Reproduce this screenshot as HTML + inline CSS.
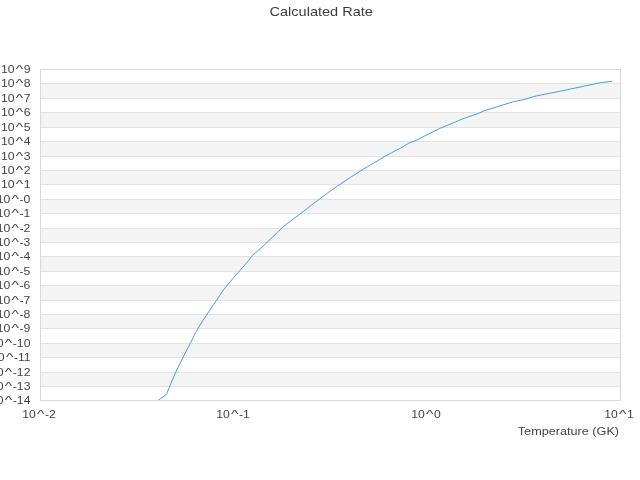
<!DOCTYPE html>
<html>
<head>
<meta charset="utf-8">
<title>Calculated Rate</title>
<style>
html,body{margin:0;padding:0;background:#ffffff;}
body{width:640px;height:480px;position:relative;overflow:hidden;font-family:"Liberation Sans",sans-serif;}
#chart{position:absolute;left:0;top:0;width:640px;height:480px;overflow:hidden;will-change:transform;}
.t{position:absolute;white-space:nowrap;line-height:1;}
#title{left:0;width:640px;top:5px;text-align:center;font-size:13.5px;color:#3c3c3c;padding-left:2.4px;box-sizing:border-box;transform:scaleX(1.075);transform-origin:321.2px 50%;}
.yl{position:absolute;white-space:nowrap;line-height:1;right:609.3px;font-size:11px;color:#444444;transform:scaleX(1.11);transform-origin:100% 50%;text-align:right;}
.xl{position:absolute;white-space:nowrap;line-height:1;top:409px;font-size:11px;color:#444444;transform:translateX(-50%) scaleX(1.11);text-align:center;}
.c{display:inline-block;width:8.3px;text-align:center;transform:translateX(0.55px) scaleX(1.3);}
#xt{right:20.5px;top:425.6px;font-size:11.5px;color:#444444;transform:scaleX(1.1);transform-origin:100% 50%;}
</style>
</head>
<body>
<div id="chart">
<svg width="640" height="480" viewBox="0 0 640 480" style="position:absolute;left:0;top:0">
<defs><clipPath id="pc"><rect x="40" y="69" width="581" height="331"/></clipPath></defs>
<rect x="0" y="0" width="640" height="480" fill="#ffffff"/>
<rect x="40.5" y="83.5" width="580.0" height="15.0" fill="#f4f4f4"/>
<rect x="40.5" y="112.5" width="580.0" height="15.0" fill="#f4f4f4"/>
<rect x="40.5" y="141.5" width="580.0" height="15.0" fill="#f4f4f4"/>
<rect x="40.5" y="170.5" width="580.0" height="14.0" fill="#f4f4f4"/>
<rect x="40.5" y="199.5" width="580.0" height="14.0" fill="#f4f4f4"/>
<rect x="40.5" y="228.5" width="580.0" height="14.0" fill="#f4f4f4"/>
<rect x="40.5" y="256.5" width="580.0" height="15.0" fill="#f4f4f4"/>
<rect x="40.5" y="285.5" width="580.0" height="15.0" fill="#f4f4f4"/>
<rect x="40.5" y="314.5" width="580.0" height="14.0" fill="#f4f4f4"/>
<rect x="40.5" y="343.5" width="580.0" height="14.0" fill="#f4f4f4"/>
<rect x="40.5" y="372.5" width="580.0" height="14.0" fill="#f4f4f4"/>
<path d="M40.5 69.5H620.5M40.5 83.5H620.5M40.5 98.5H620.5M40.5 112.5H620.5M40.5 127.5H620.5M40.5 141.5H620.5M40.5 156.5H620.5M40.5 170.5H620.5M40.5 184.5H620.5M40.5 199.5H620.5M40.5 213.5H620.5M40.5 228.5H620.5M40.5 242.5H620.5M40.5 256.5H620.5M40.5 271.5H620.5M40.5 285.5H620.5M40.5 300.5H620.5M40.5 314.5H620.5M40.5 328.5H620.5M40.5 343.5H620.5M40.5 357.5H620.5M40.5 372.5H620.5M40.5 386.5H620.5M40.5 400.5H620.5" stroke="#e3e3e3" stroke-width="1" fill="none" shape-rendering="crispEdges"/>
<rect x="40.5" y="69.5" width="580.0" height="331.0" fill="none" stroke="#dadada" stroke-width="1" shape-rendering="crispEdges"/>
<path d="M156.90 401.30 L166.40 394.50 L175.60 372.30 L184.20 355.00 L190.00 344.00 L196.50 331.00 L203.20 320.00 L213.50 304.70 L223.40 290.00 L234.75 276.25 L247.40 262.00 L252.50 255.50 L264.00 245.30 L277.80 232.00 L283.20 226.80 L294.90 217.90 L308.00 207.90 L310.80 205.60 L332.00 189.70 L350.50 177.30 L364.00 168.75 L372.00 164.10 L384.30 156.70 L396.00 150.40 L400.00 148.50 L409.00 143.10 L417.50 139.90 L424.00 136.25 L439.50 128.50 L456.00 121.75 L460.00 119.90 L468.00 116.90 L477.00 114.00 L485.00 110.50 L492.00 108.40 L500.00 105.90 L513.90 101.50 L520.10 100.40 L524.00 99.50 L532.00 97.10 L536.50 95.90 L556.00 92.06 L564.00 90.40 L596.00 83.60 L601.30 82.50 L611.70 81.40" stroke="#4b9bee" stroke-width="1" fill="none" stroke-linejoin="round" stroke-linecap="round" clip-path="url(#pc)"/>
</svg>
<div id="title" class="t">Calculated Rate</div>
<div class="yl" id="y0" style="top:64px">10<span class="c">^</span>9</div>
<div class="yl" id="y1" style="top:78px">10<span class="c">^</span>8</div>
<div class="yl" id="y2" style="top:93px">10<span class="c">^</span>7</div>
<div class="yl" id="y3" style="top:107px">10<span class="c">^</span>6</div>
<div class="yl" id="y4" style="top:122px">10<span class="c">^</span>5</div>
<div class="yl" id="y5" style="top:136px">10<span class="c">^</span>4</div>
<div class="yl" id="y6" style="top:151px">10<span class="c">^</span>3</div>
<div class="yl" id="y7" style="top:165px">10<span class="c">^</span>2</div>
<div class="yl" id="y8" style="top:179px">10<span class="c">^</span>1</div>
<div class="yl" id="y9" style="top:194px">10<span class="c">^</span>-0</div>
<div class="yl" id="y10" style="top:208px">10<span class="c">^</span>-1</div>
<div class="yl" id="y11" style="top:223px">10<span class="c">^</span>-2</div>
<div class="yl" id="y12" style="top:237px">10<span class="c">^</span>-3</div>
<div class="yl" id="y13" style="top:251px">10<span class="c">^</span>-4</div>
<div class="yl" id="y14" style="top:266px">10<span class="c">^</span>-5</div>
<div class="yl" id="y15" style="top:280px">10<span class="c">^</span>-6</div>
<div class="yl" id="y16" style="top:295px">10<span class="c">^</span>-7</div>
<div class="yl" id="y17" style="top:309px">10<span class="c">^</span>-8</div>
<div class="yl" id="y18" style="top:323px">10<span class="c">^</span>-9</div>
<div class="yl" id="y19" style="top:338px">10<span class="c">^</span>-10</div>
<div class="yl" id="y20" style="top:352px">10<span class="c">^</span>-11</div>
<div class="yl" id="y21" style="top:367px">10<span class="c">^</span>-12</div>
<div class="yl" id="y22" style="top:381px">10<span class="c">^</span>-13</div>
<div class="yl" id="y23" style="top:395px">10<span class="c">^</span>-14</div>
<div class="xl" id="x0" style="left:38.80px">10<span class="c">^</span>-2</div>
<div class="xl" id="x1" style="left:233.13px">10<span class="c">^</span>-1</div>
<div class="xl" id="x2" style="left:426.47px">10<span class="c">^</span>0</div>
<div class="xl" id="x3" style="left:618.80px">10<span class="c">^</span>1</div>
<div id="xt" class="t">Temperature (GK)</div>
</div>
</body>
</html>
